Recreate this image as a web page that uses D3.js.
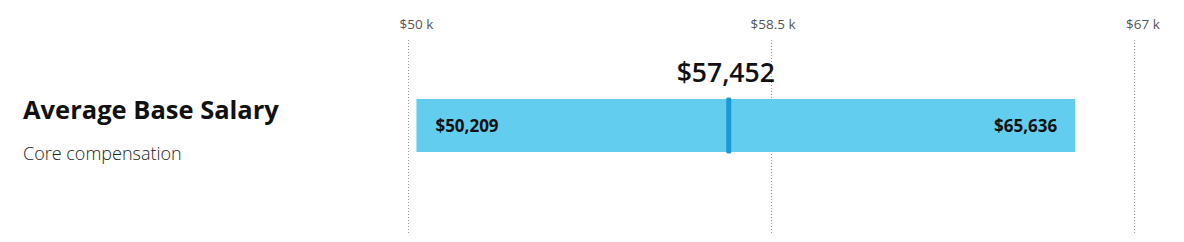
<!DOCTYPE html>
<html><head><meta charset="utf-8">
<script src="https://cdn.jsdelivr.net/npm/d3@7"></script>
<style>
html,body{margin:0;padding:0;background:#fff;}
svg{display:block;font-family:"Open Sans","Noto Sans",sans-serif;}
</style></head>
<body><svg id="c" width="1184" height="242"></svg>
<script>
const title = "Average Base Salary";
const subtitle = "Core compensation";
const domainK = [50, 67];
const tickValues = [50, 58.5, 67];
const tickLabels = ["$50 k", "$58.5 k", "$67 k"];
const rangeLow = [50209];
const rangeHigh = [65636];
const median = [57452];

const svg = d3.select("#c");
const x = d3.scaleLinear().domain(domainK.map(d => d * 1000)).range([407.5, 1133.5]);
const fmt = d3.format("$,");
const tickDx = [9, 2.5, 9.5];

// grid lines
svg.append("g").selectAll("line").data(tickValues).join("line")
  .attr("x1", d => Math.round(x(d * 1000)) + 0.5).attr("x2", d => Math.round(x(d * 1000)) + 0.5)
  .attr("y1", 40).attr("y2", 235)
  .attr("stroke", "#9a9a9a").attr("stroke-width", 1).attr("stroke-dasharray", "1,2");

svg.append("g").selectAll("text").data(tickValues).join("text")
  .attr("x", (d, i) => x(d * 1000) + tickDx[i]).attr("y", 29)
  .attr("text-anchor", "middle").attr("font-size", 13.5).attr("fill", "#555")
  .text((d, i) => tickLabels[i]);

// bar
const barY = 99, barH = 53;
svg.append("g").selectAll("rect").data(rangeLow).join("rect")
  .attr("x", (d, i) => x(d)).attr("width", (d, i) => x(rangeHigh[i]) - x(d))
  .attr("y", barY).attr("height", barH).attr("fill", "#62cdef");

svg.append("text").attr("x", x(rangeLow[0]) + 19).attr("y", 132)
  .attr("font-size", 17).attr("font-weight", 700).attr("fill", "#111")
  .text(fmt(rangeLow[0]));
svg.append("text").attr("x", x(rangeHigh[0]) - 18).attr("y", 132)
  .attr("text-anchor", "end")
  .attr("font-size", 17).attr("font-weight", 700).attr("fill", "#111")
  .text(fmt(rangeHigh[0]));

// median marker
svg.append("g").selectAll("rect").data(median).join("rect")
  .attr("x", d => x(d) + 0.5).attr("width", 5)
  .attr("y", barY - 1.5).attr("height", barH + 3).attr("rx", 1.5)
  .attr("fill", "#1b98d5");
svg.append("text").attr("x", x(median[0])).attr("y", 82)
  .attr("text-anchor", "middle").attr("font-size", 26.5).attr("font-weight", 600)
  .attr("fill", "#111").text(fmt(median[0]));

// titles
svg.append("text").attr("x", 23).attr("y", 119)
  .attr("font-size", 25.5).attr("font-weight", 700).attr("fill", "#111")
  .text(title);
svg.append("text").attr("x", 23).attr("y", 160)
  .attr("font-size", 18).attr("font-weight", 300).attr("fill", "#222")
  .text(subtitle);
</script></body></html>
